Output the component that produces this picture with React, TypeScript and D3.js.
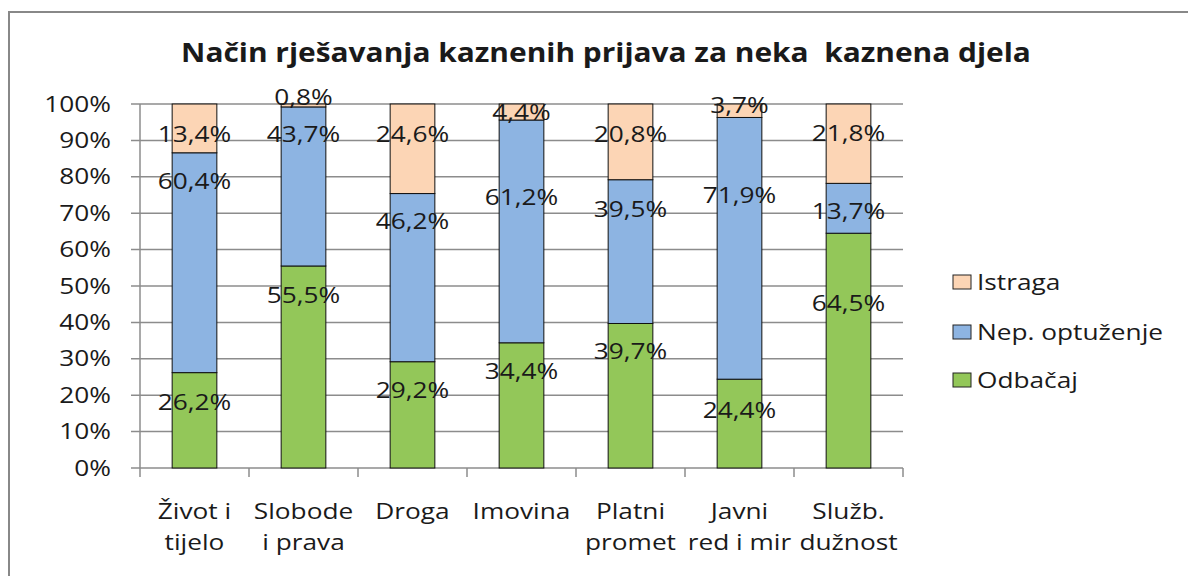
import React from "react";
import * as d3 from "d3";

const title = "Način rješavanja kaznenih prijava za neka  kaznena djela";
const categories = [
  ["Život i", "tijelo"],
  ["Slobode", "i prava"],
  ["Droga"],
  ["Imovina"],
  ["Platni", "promet"],
  ["Javni", "red i mir"],
  ["Služb.", "dužnost"],
];
const seriesNames = ["Odbačaj", "Nep. optuženje", "Istraga"];
const odbacaj = [26.2, 55.5, 29.2, 34.4, 39.7, 24.4, 64.5];
const nepOptuzenje = [60.4, 43.7, 46.2, 61.2, 39.5, 71.9, 13.7];
const istraga = [13.4, 0.8, 24.6, 4.4, 20.8, 3.7, 21.8];
// where the data labels sit, in percent of the axis
const odbacajLabelAt = [17.9, 47.3, 21.4, 26.6, 31.9, 15.9, 45.1];
const nepLabelAt = [78.6, 91.6, 67.6, 74.3, 71.0, 74.9, 70.5];
const istragaLabelAt = [91.6, 101.9, 91.6, 97.8, 91.6, 99.7, 91.8];
const yTicks = [0, 10, 20, 30, 40, 50, 60, 70, 80, 90, 100];

const colors = ["#93C759", "#8DB4E2", "#FCD5B5"];
const FONT = "'Open Sans', sans-serif";
const SX = 1.25;

function T(props: any) {
  const { x, y, anchor = "middle", size = 21, weight = 400, sx = SX, children, baseline } = props;
  return (
    <text
      transform={`translate(${x},${y}) scale(${sx},1)`}
      textAnchor={anchor}
      fontFamily={FONT}
      fontSize={size}
      fontWeight={weight}
      fill="#1a1a1a"
      dominantBaseline={baseline}
      style={{ whiteSpace: "pre" }}
    >
      {children}
    </text>
  );
}

export default function App() {
  const W = 1188, H = 576;
  const left = 140, right = 903, top = 104, bottom = 468;
  const labels = categories.map((c) => c.join(" "));
  const x = d3.scaleBand<string>().domain(labels).range([left, right]).paddingInner(0.59).paddingOuter(0.295);
  const y = d3.scaleLinear().domain([0, 100]).range([bottom, top]);
  const step = x.step();
  const seriesVals = [odbacaj, nepOptuzenje, istraga];
  const labelAt = [odbacajLabelAt, nepLabelAt, istragaLabelAt];
  const fmt = (v: number) => v.toFixed(1).replace(".", ",") + "%";

  return (
    <svg width={W} height={H} style={{ position: "absolute", left: 0, top: 0, background: "#fff" }}>
      <rect x={0} y={0} width={W} height={H} fill="#fff" />
      <rect x={9} y={12} width={W + 20} height={H + 20} fill="none" stroke="#888" strokeWidth={2} />
      <T x={606} y={62} size={26} weight={700} sx={1.15}>{title}</T>

      {yTicks.map((t) => (
        <g key={t}>
          <line x1={131} x2={right} y1={y(t)} y2={y(t)} stroke="#8c8c8c" strokeWidth={1.5} />
          <T x={111} y={y(t) + 7.5} anchor="end">{t + "%"}</T>
        </g>
      ))}
      <line x1={left} x2={left} y1={top} y2={bottom} stroke="#8c8c8c" strokeWidth={1.5} />
      {d3.range(labels.length + 1).map((i) => (
        <line key={i} x1={left + i * step} x2={left + i * step} y1={bottom} y2={bottom + 9} stroke="#8c8c8c" strokeWidth={1.5} />
      ))}

      {labels.map((lab, i) => {
        let acc = 0;
        return (
          <g key={lab}>
            {seriesVals.map((s, k) => {
              const y0 = acc, y1 = acc + s[i];
              acc = y1;
              return (
                <rect key={k} x={x(lab)!} width={x.bandwidth()} y={y(y1)} height={y(y0) - y(y1)}
                  fill={colors[k]} stroke="#111" strokeWidth={1} />
              );
            })}
          </g>
        );
      })}
      {labels.map((lab, i) =>
        seriesVals.map((s, k) => (
          <T key={lab + k} x={x(lab)! + x.bandwidth() / 2} y={y(labelAt[k][i]) + 7.5}>{fmt(s[i])}</T>
        ))
      )}

      {categories.map((c, i) => (
        <g key={i}>
          {c.map((line, j) => (
            <T key={j} x={x(labels[i])! + x.bandwidth() / 2} y={519 + j * 31}>{line}</T>
          ))}
        </g>
      ))}

      {[2, 1, 0].map((k, r) => {
        const cy = [282, 332, 380][r];
        return (
          <g key={k}>
            <rect x={953} y={cy - 7} width={18} height={14} fill={colors[k]} stroke="#222" strokeWidth={1} />
            <T x={977} y={cy + 7.5} anchor="start">{seriesNames[k]}</T>
          </g>
        );
      })}
    </svg>
  );
}
